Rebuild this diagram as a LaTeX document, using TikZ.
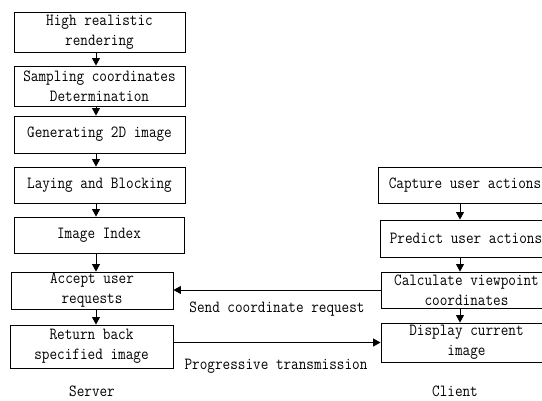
\documentclass[tikz,border=0pt]{standalone}
\usepackage{fontspec}
\newfontfamily\diagmono[FakeStretch=0.87]{Latin Modern Mono}
\usetikzlibrary{arrows.meta}
\begin{document}
\begin{tikzpicture}[x=1pt,y=-1pt,
  every node/.style={font=\diagmono\fontsize{17}{20}\selectfont},
  box/.style={draw, line width=0.9pt, align=center, inner sep=0pt},
  arr/.style={line width=0.9pt, -{Triangle[length=7.5pt,width=8pt]}},
  lbl/.style={inner sep=0pt}]
\useasboundingbox (0,0) rectangle (542,401);
\begin{scope}
\clip (0,0) rectangle (542,401);
% left column (server)
\node[box, minimum width=171, minimum height=40] (b1) at (99.5,32) {High realistic\\rendering};
\node[box, minimum width=171, minimum height=40] (b2) at (99.5,86) {Sampling coordinates\\Determination};
\node[box, minimum width=171, minimum height=37] (b3) at (99.5,134.5) {Generating 2D image};
\node[box, minimum width=171, minimum height=36] (b4) at (99.5,185) {Laying and Blocking};
\node[box, minimum width=170, minimum height=36] (b5) at (99,235) {Image Index};
\node[box, minimum width=162, minimum height=37] (b6) at (92,290.5) {Accept user\\requests};
\node[box, minimum width=163, minimum height=43] (b7) at (91.5,346.5) {Return back\\specified image};
% right column (client)
\node[box, minimum width=174, minimum height=36] (c1) at (465,185) {Capture user actions};
\node[box, minimum width=172, minimum height=37] (c2) at (466,238.5) {Predict user actions};
\node[box, minimum width=171, minimum height=36] (c3) at (466.5,290) {Calculate viewpoint\\coordinates};
\node[box, minimum width=171, minimum height=39] (c4) at (466.5,342.5) {Display current\\image};
\end{scope}
\coordinate (lx) at (96,0);
\coordinate (rx) at (460,0);
% vertical arrows
\draw[arr] (b1.south -| lx) -- (b2.north -| lx);
\draw[arr] (b2.south -| lx) -- (b3.north -| lx);
\draw[arr] (b3.south -| lx) -- (b4.north -| lx);
\draw[arr] (b4.south -| lx) -- (b5.north -| lx);
\draw[arr] (b5.south -| lx) -- (b6.north -| lx);
\draw[arr] (b6.south -| lx) -- (b7.north -| lx);
\draw[arr] (c1.south -| rx) -- (c2.north -| rx);
\draw[arr] (c2.south -| rx) -- (c3.north -| rx);
\draw[arr] (c3.south -| rx) -- (c4.north -| rx);
% horizontal arrows
\draw[arr] (c3.west) -- (b6.east |- c3.west);
\draw[arr] (b7.east |- c4.west) -- (c4.west);
% labels
\node[lbl] (t1) at (277,309) {Send coordinate request};
\node[lbl] (t2) at (276,366) {Progressive transmission};
\node[lbl] (t3) at (92,391) {Server};
\node[lbl] (t4) at (455,391) {Client};
\end{tikzpicture}
\end{document}
